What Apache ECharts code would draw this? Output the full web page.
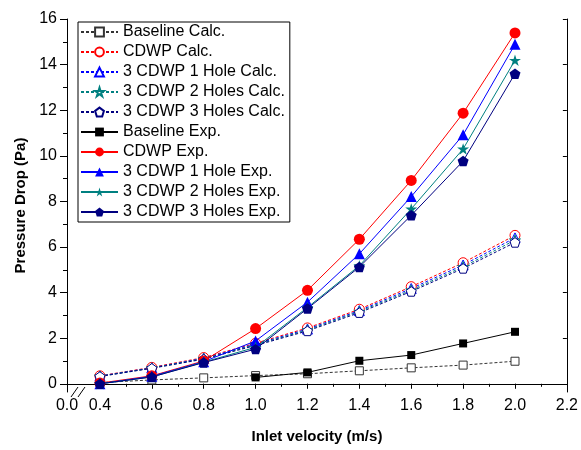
<!DOCTYPE html>
<html>
<head>
<meta charset="utf-8">
<script src="https://cdn.jsdelivr.net/npm/echarts@6/dist/echarts.min.js"></script>
<style>html,body{margin:0;padding:0;background:#fff}#c{width:581px;height:450px}</style>
</head>
<body>
<div id="c"></div>
<script>
// ---- data ----
var velocity = [0.4, 0.6, 0.8, 1.0, 1.2, 1.4, 1.6, 1.8, 2.0];
var baselineCalc = [0.05, 0.17, 0.26, 0.36, 0.44, 0.57, 0.70, 0.82, 0.99];
var cdwpCalc = [0.35, 0.72, 1.15, 1.78, 2.45, 3.27, 4.26, 5.31, 6.51];
var hole1Calc = [0.34, 0.70, 1.12, 1.74, 2.40, 3.21, 4.18, 5.21, 6.40];
var hole2Calc = [0.33, 0.69, 1.10, 1.71, 2.36, 3.17, 4.11, 5.13, 6.30];
var hole3Calc = [0.32, 0.68, 1.08, 1.68, 2.32, 3.12, 4.05, 5.06, 6.20];
var baselineExp = [null, null, null, 0.28, 0.50, 1.01, 1.26, 1.77, 2.28];
var cdwpExp = [0.03, 0.35, 1.00, 2.42, 4.10, 6.34, 8.92, 11.87, 15.39];
var hole1Exp = [0.00, 0.33, 0.97, 1.88, 3.58, 5.70, 8.21, 10.92, 14.89];
var hole2Exp = [0.00, 0.30, 0.95, 1.60, 3.35, 5.18, 7.67, 10.30, 14.19];
var hole3Exp = [0.00, 0.30, 0.93, 1.52, 3.30, 5.12, 7.39, 9.77, 13.60];
var xTickLabels = [0.4, 0.6, 0.8, 1.0, 1.2, 1.4, 1.6, 1.8, 2.0, 2.2];
var xMinorTicks = [0.5, 0.7, 0.9, 1.1, 1.3, 1.5, 1.7, 1.9, 2.1];
var yTickLabels = [0, 2, 4, 6, 8, 10, 12, 14, 16];
var yMinorTicks = [1, 3, 5, 7, 9, 11, 13, 15];
var xBreakLabel = '0.0';

var XMIN = 0.273, XMAX = 2.2, YMIN = -0.36, YMAX = 16;
var FONT = 'Liberation Sans, Arial, sans-serif';

var PENTAGON = 'path://M50,0 L97.6,34.5 L79.4,90.5 L20.6,90.5 L2.4,34.5 Z';
var STAR = 'path://M50,0 L61.17,34.63 L97.55,34.55 L68.07,55.87 L79.39,90.45 L50,69 L20.61,90.45 L31.93,55.87 L2.45,34.55 L38.83,34.63 Z';

function pairs(arr) { return velocity.map(function (v, i) { return [v, arr[i]]; }); }

function calc(name, data, color, symbol, size) {
  return {
    name: name, type: 'line', data: pairs(data), symbol: symbol, symbolSize: size,
    symbolKeepAspect: true, connectNulls: false,
    lineStyle: { color: color, width: 1, type: [3, 2] },
    itemStyle: { color: '#fff', borderColor: color, borderWidth: 1 },
    emphasis: { disabled: true }, z: 2, animation: false
  };
}
function exp(name, data, color, symbol, size) {
  return {
    name: name, type: 'line', data: pairs(data), symbol: symbol, symbolSize: size,
    symbolKeepAspect: true, connectNulls: false,
    lineStyle: { color: color, width: 1, type: 'solid' },
    itemStyle: { color: color, borderColor: color, borderWidth: 0 },
    emphasis: { disabled: true }, z: 3, animation: false
  };
}

var series = [
  calc('Baseline Calc.', baselineCalc, '#333333', 'rect', 8),
  calc('CDWP Calc.', cdwpCalc, '#ff0000', 'circle', 10),
  calc('3 CDWP 1 Hole Calc.', hole1Calc, '#0000ff', 'triangle', 10),
  calc('3 CDWP 2 Holes Calc.', hole2Calc, '#008080', STAR, 11),
  calc('3 CDWP 3 Holes Calc.', hole3Calc, '#000080', PENTAGON, 10),
  exp('Baseline Exp.', baselineExp, '#000000', 'rect', 8),
  exp('CDWP Exp.', cdwpExp, '#ff0000', 'circle', 11),
  exp('3 CDWP 1 Hole Exp.', hole1Exp, '#0000ff', 'triangle', 11),
  exp('3 CDWP 2 Holes Exp.', hole2Exp, '#008080', STAR, 12),
  exp('3 CDWP 3 Holes Exp.', hole3Exp, '#000080', PENTAGON, 11)
];

var chart = echarts.init(document.getElementById('c'), null, { renderer: 'canvas' });
var axisLineStyle = { color: '#000', width: 1 };
var option = {
  animation: false,
  backgroundColor: '#fff',
  grid: { left: 67, right: 13, top: 19, bottom: 58, containLabel: false },
  legend: {
    orient: 'vertical', left: 78, top: 22,
    padding: [2, 5, 2, 2], itemGap: 4, itemWidth: 37, itemHeight: 11,
    borderColor: '#000', borderWidth: 1, backgroundColor: '#fff',
    textStyle: { fontFamily: FONT, fontSize: 16, color: '#000', padding: [0, 0, 0, 0] },
    data: series.map(function (s) { return s.name; }),
    selectedMode: false
  },
  xAxis: [
    {
      type: 'value', position: 'bottom', min: XMIN, max: XMAX,
      name: 'Inlet velocity (m/s)', nameLocation: 'middle', nameGap: 37,
      nameTextStyle: { fontFamily: FONT, fontSize: 15, fontWeight: 'bold', color: '#000' },
      axisLine: { show: true, lineStyle: axisLineStyle },
      axisTick: { show: true, inside: false, length: 5, lineStyle: axisLineStyle, customValues: xTickLabels },
      axisLabel: {
        show: true, margin: 6, fontFamily: FONT, fontSize: 16, color: '#000',
        customValues: [XMIN].concat(xTickLabels), showMinLabel: true, showMaxLabel: true,
        formatter: function (v) { return v < 0.35 ? xBreakLabel : v.toFixed(1); }
      },
      splitLine: { show: false }
    },
    {
      type: 'value', position: 'bottom', min: XMIN, max: XMAX, gridIndex: 0,
      axisLine: { show: false },
      axisTick: { show: true, inside: false, length: 3, lineStyle: axisLineStyle, customValues: xMinorTicks },
      axisLabel: { show: false }, splitLine: { show: false }
    },
    {
      type: 'value', position: 'top', min: XMIN, max: XMAX,
      axisLine: { show: true, lineStyle: axisLineStyle },
      axisTick: { show: true, inside: true, length: 4, lineStyle: axisLineStyle, customValues: xTickLabels },
      axisLabel: { show: false }, splitLine: { show: false }
    }
  ],
  yAxis: [
    {
      type: 'value', position: 'left', min: YMIN, max: YMAX,
      name: 'Pressure Drop (Pa)', nameLocation: 'middle', nameGap: 35, nameRotate: 90,
      nameTextStyle: { fontFamily: FONT, fontSize: 15, fontWeight: 'bold', color: '#000' },
      axisLine: { show: true, lineStyle: axisLineStyle },
      axisTick: { show: true, inside: false, length: 7, lineStyle: axisLineStyle, customValues: yTickLabels },
      axisLabel: {
        show: true, margin: 10, fontFamily: FONT, fontSize: 16, color: '#000',
        customValues: yTickLabels, formatter: function (v) { return String(v); }
      },
      splitLine: { show: false }
    },
    {
      type: 'value', position: 'left', min: YMIN, max: YMAX,
      axisLine: { show: false },
      axisTick: { show: true, inside: false, length: 4, lineStyle: axisLineStyle, customValues: yMinorTicks },
      axisLabel: { show: false }, splitLine: { show: false }
    },
    {
      type: 'value', position: 'right', min: YMIN, max: YMAX,
      axisLine: { show: true, lineStyle: axisLineStyle },
      axisTick: { show: true, inside: true, length: 4, lineStyle: axisLineStyle, customValues: yTickLabels },
      axisLabel: { show: false }, splitLine: { show: false }
    }
  ],
  series: series
};
chart.setOption(option);

// axis break marks on the x axis
var pA = chart.convertToPixel({ xAxisIndex: 0, yAxisIndex: 0 }, [XMIN, YMIN]);
var bx = pA[0] + 5, by = pA[1];
chart.setOption({
  graphic: [
    { type: 'rect', shape: { x: bx + 2, y: by - 2, width: 6, height: 4 }, style: { fill: '#fff' }, z: 100 },
    { type: 'line', shape: { x1: bx - 1, y1: by + 5, x2: bx + 6, y2: by - 5 }, style: { stroke: '#000', lineWidth: 1 }, z: 101 },
    { type: 'line', shape: { x1: bx + 6, y1: by + 5, x2: bx + 13, y2: by - 5 }, style: { stroke: '#000', lineWidth: 1 }, z: 101 }
  ]
});
</script>
</body>
</html>
